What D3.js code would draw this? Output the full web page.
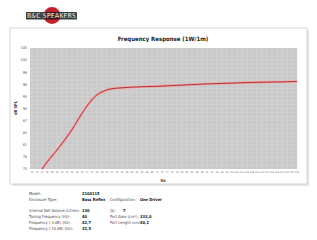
<!DOCTYPE html>
<html>
<head>
<meta charset="utf-8">
<script src="https://cdn.jsdelivr.net/npm/d3@7"></script>
<style>
  body { margin: 0; background: #fff; }
  svg { display: block; font-family: 'DejaVu Sans', sans-serif; font-stretch: condensed; }
</style>
</head>
<body>
<svg id="chart" width="317" height="240"></svg>
<script>
// response curve
const freqs = [24, 26, 28, 30, 32, 34, 36, 38, 40, 42, 44, 46, 48, 50, 52, 55, 60, 70, 80, 90, 100, 110, 120, 126];
const spl = [75, 76.7, 78.2, 79.7, 81.3, 83, 84.8, 86.8, 88.8, 90.6, 92.2, 93.4, 94.1, 94.6, 94.9, 95.1, 95.3, 95.5, 95.8, 96.1, 96.3, 96.5, 96.6, 96.7];
const yTicks = [75, 78, 81, 84, 87, 90, 93, 96, 99, 102, 105];
const xTicks = d3.range(20, 127, 2);

const specLeft = [
  ['Model:', '2100115'],
  ['Enclosure Type:', 'Bass Reflex'],
  null,
  ['Internal Net Volume (Litres):', '130'],
  ['Tuning Frequency (Hz):', '40'],
  ['Frequency (-3 dB) (Hz):', '42,7'],
  ['Frequency (-10 dB) (Hz):', '32,5']
];
const specRight = [
  null,
  ['Configuration:', 'One Driver'],
  null,
  ['QL:', '7'],
  ['Port Area (cm²):', '333,0'],
  ['Port Length (cm):', '30,2'],
  null
];

const svg = d3.select('#chart');
const plot = { left: 30, right: 297, top: 48, bottom: 169 };

// logo
const logo = svg.append('g');
logo.append('circle').attr('cx', 52).attr('cy', 15.5).attr('r', 8.5).attr('fill', '#c8202a');
logo.append('rect').attr('x', 26).attr('y', 12).attr('width', 51).attr('height', 7.5)
  .attr('fill', '#222').attr('fill-opacity', 0.85);
logo.append('text').attr('x', 51.5).attr('y', 18.4).attr('text-anchor', 'middle')
  .attr('font-size', 7).attr('font-weight', 'bold').attr('fill', '#fff')
  .attr('stroke', '#000').attr('stroke-width', 0.3)
  .attr('textLength', 49).attr('lengthAdjust', 'spacingAndGlyphs').text('B&C SPEAKERS');

// frame with shadow
svg.append('rect').attr('x', 12).attr('y', 30).attr('width', 297).attr('height', 156).attr('fill', '#e4e4e4');
svg.append('rect').attr('x', 10).attr('y', 28).attr('width', 297).attr('height', 156)
  .attr('fill', '#fff').attr('stroke', '#d6d6d6').attr('stroke-width', 1);

const x = d3.scaleLinear().domain([20, 126]).range([plot.left + 2, plot.right]);
const y = d3.scaleLinear().domain([75, 105]).range([plot.bottom, plot.top]);

// plot background and grid
svg.append('rect').attr('x', plot.left).attr('y', plot.top)
  .attr('width', plot.right - plot.left).attr('height', plot.bottom - plot.top)
  .attr('fill', '#c9c9c9');
svg.append('g').selectAll('line').data(xTicks).join('line')
  .attr('x1', d => x(d)).attr('x2', d => x(d))
  .attr('y1', plot.top).attr('y2', plot.bottom)
  .attr('stroke', '#dadada').attr('stroke-width', 0.6);
svg.append('g').selectAll('line').data(d3.range(76, 105, 1)).join('line')
  .attr('x1', plot.left).attr('x2', plot.right)
  .attr('y1', d => y(d)).attr('y2', d => y(d))
  .attr('stroke', '#d6d6d6').attr('stroke-width', 0.5);

// axes labels
svg.append('g').selectAll('text').data(yTicks).join('text')
  .attr('x', plot.left - 3).attr('y', d => y(d) + 1.3)
  .attr('text-anchor', 'end').attr('font-size', 3.8).attr('fill', '#555')
  .text(d => d);
svg.append('g').selectAll('text').data(xTicks).join('text')
  .attr('x', d => x(d)).attr('y', plot.bottom + 4)
  .attr('text-anchor', 'middle').attr('font-size', 2.4).attr('fill', '#666')
  .text(d => d);

svg.append('text').attr('x', 163).attr('y', 41).attr('text-anchor', 'middle')
  .attr('font-size', 6).attr('font-weight', 'bold').attr('fill', '#222')
  .text('Frequency Response (1W/1m)');
svg.append('text').attr('transform', 'translate(17,108) rotate(-90)')
  .attr('text-anchor', 'middle').attr('font-size', 4).attr('font-weight', 'bold').attr('fill', '#333')
  .text('dB SPL');
svg.append('text').attr('x', 163).attr('y', 182).attr('text-anchor', 'middle')
  .attr('font-size', 4).attr('font-weight', 'bold').attr('fill', '#333')
  .text('Hz');

// curve
const line = d3.line().x((d, i) => x(freqs[i])).y(d => y(d)).curve(d3.curveMonotoneX);
svg.append('path').datum(spl).attr('d', line)
  .attr('fill', 'none').attr('stroke', '#f4a0a0').attr('stroke-width', 2.4);
svg.append('path').datum(spl).attr('d', line)
  .attr('fill', 'none').attr('stroke', '#a8282c').attr('stroke-width', 0.9);

// spec table
const rowY = [195, 201, null, 212, 218, 224, 230];
const table = svg.append('g').attr('font-size', 4).attr('fill', '#444');
specLeft.forEach((r, i) => {
  if (!r) return;
  table.append('text').attr('x', 29).attr('y', rowY[i]).text(r[0]);
  table.append('text').attr('x', 82).attr('y', rowY[i]).attr('font-weight', 'bold').attr('fill', '#111').text(r[1]);
});
specRight.forEach((r, i) => {
  if (!r) return;
  table.append('text').attr('x', 110).attr('y', rowY[i]).text(r[0]);
  table.append('text').attr('x', r[0] === 'QL:' ? 123 : 140).attr('y', rowY[i]).attr('font-weight', 'bold').attr('fill', '#111').text(r[1]);
});
</script>
</body>
</html>
